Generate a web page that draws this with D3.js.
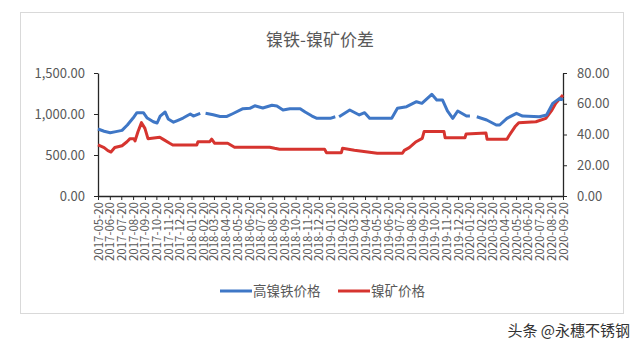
<!DOCTYPE html>
<html>
<head>
<meta charset="utf-8">
<style>
    body { margin: 0; background: #fff; }
    svg text { font-family: "Noto Sans CJK SC", "Noto Sans", sans-serif; fill: #595959; }
    .axis path, .axis line { stroke: #262626; }
</style>
<script src="https://d3js.org/d3.v7.min.js"></script>
</head>
<body>
<svg width="640" height="349"></svg>
<script>
// 高镍铁价格 (left axis)
var ironDates = ["2017-05-20","2017-06-05","2017-06-21","2017-07-06","2017-07-22","2017-08-05","2017-08-20","2017-08-30","2017-09-16","2017-09-26",
    "2017-10-12","2017-10-22","2017-10-30","2017-11-12","2017-11-20","2017-12-04","2017-12-14","2017-12-29","2018-01-17","2018-01-25",
    "2018-02-12","2018-02-19","2018-02-26","2018-03-18","2018-04-05","2018-04-23","2018-05-08","2018-06-04","2018-06-22","2018-07-05",
    "2018-07-26","2018-08-19","2018-09-01","2018-09-17","2018-10-05","2018-11-01","2018-11-14","2018-12-02","2018-12-15","2019-01-19",
    "2019-02-01","2019-02-06","2019-02-11","2019-03-11","2019-04-05","2019-04-19","2019-05-02","2019-06-29","2019-07-14","2019-08-07",
    "2019-09-02","2019-09-16","2019-10-12","2019-10-25","2019-11-09","2019-11-22","2019-12-06","2019-12-19","2020-01-11","2020-01-20",
    "2020-01-28","2020-02-07","2020-03-04","2020-03-29","2020-04-07","2020-04-26","2020-05-21","2020-06-06","2020-07-20","2020-08-08",
    "2020-08-24","2020-09-11","2020-09-20"];
var ironValues = [817,790,772,785,800,866,951,1016,1016,951,
    906,890,975,1024,940,900,920,951,1000,975,
    1008,null,1008,990,970,970,1003,1065,1069,1100,
    1073,1106,1098,1049,1065,1065,1024,975,947,947,
    967,null,967,1049,988,1016,947,947,1069,1089,
    1150,1130,1240,1171,1171,1037,947,1037,975,975,
    null,967,927,866,866,947,1008,975,967,988,
    1130,1191,1171];

// 镍矿价格 (right axis)
var oreDates = ["2017-05-20","2017-06-05","2017-06-15","2017-06-23","2017-07-03","2017-07-22","2017-08-04","2017-08-12","2017-08-22","2017-08-25",
    "2017-09-02","2017-09-11","2017-09-20","2017-09-28","2017-10-29","2017-11-06","2017-11-24","2017-12-02","2018-02-03","2018-02-06",
    "2018-03-09","2018-03-14","2018-03-22","2018-04-25","2018-05-13","2018-08-13","2018-08-26","2018-09-08","2019-01-04","2019-01-09",
    "2019-02-17","2019-02-20","2019-03-23","2019-05-22","2019-07-27","2019-08-01","2019-08-14","2019-09-01","2019-09-17","2019-09-22",
    "2019-11-13","2019-11-16","2020-01-07","2020-01-10","2020-03-02","2020-03-05","2020-04-26","2020-05-01","2020-05-17","2020-05-27",
    "2020-07-11","2020-08-06","2020-08-22","2020-09-01","2020-09-20"];
var oreValues = [33.2,31.5,29.5,28.6,31.5,32.7,35.3,37.3,37.3,35.8,
    42,47.7,44,37.3,38.2,37,34.3,33.2,33.2,35.3,
    35.3,37,34.3,34.3,31.7,31.7,31,30.4,30.4,28.2,
    28.2,31,29.7,27.8,27.8,29.7,31.5,35.3,37.5,42,
    42,37.9,37.9,40.3,41,36.9,36.9,39,45,47.7,
    48.3,50.5,55.9,60.3,65.7];

var leftTicks = [0, 500, 1000, 1500];
var rightTicks = [0, 20, 40, 60, 80];
var seriesNames = ["高镍铁价格", "镍矿价格"];
var seriesColors = ["#3f77c6", "#d6342f"];

var parse = d3.timeParse("%Y-%m-%d");
var start = parse("2017-05-20"), end = parse("2020-09-20");

var svg = d3.select("svg");

// chart frame
svg.append("rect").attr("x", 20.5).attr("y", 12.5).attr("width", 603).attr("height", 301)
    .attr("fill", "#fff").attr("stroke", "#d9d9d9");

svg.append("text").attr("x", 320).attr("y", 46).attr("text-anchor", "middle")
    .style("font-size", "17px").text("镍铁-镍矿价差");

var x = d3.scaleTime().domain([start, end]).range([98, 563]);
var yL = d3.scaleLinear().domain([0, 1500]).range([196, 73]);
var yR = d3.scaleLinear().domain([0, 80]).range([196, 73]);

var tickDates = d3.range(41).map(function(i) { return d3.timeMonth.offset(start, i); });

var fmt = d3.format(",.2f");

var gL = svg.append("g").attr("class", "axis").attr("transform", "translate(98,0)")
    .call(d3.axisLeft(yL).tickValues(leftTicks).tickFormat(fmt).tickSize(4).tickSizeOuter(0));
var gR = svg.append("g").attr("class", "axis").attr("transform", "translate(563,0)")
    .call(d3.axisRight(yR).tickValues(rightTicks).tickFormat(fmt).tickSize(4).tickSizeOuter(0));
[gL, gR].forEach(function(g) {
    g.selectAll("text").style("font-size", "13px").attr("fill", "#595959");
    g.select(".domain").attr("stroke-width", 1.3);
});
gL.selectAll("text").attr("x", -13);
gR.selectAll("text").attr("x", 14);

var gX = svg.append("g").attr("class", "axis").attr("transform", "translate(0,196)")
    .call(d3.axisBottom(x).tickValues(tickDates).tickFormat(d3.timeFormat("%Y-%m-%d")).tickSize(4).tickSizeOuter(0));
gX.select(".domain").attr("stroke-width", 1.3);
gX.selectAll("text")
    .style("font-size", "11.5px").attr("fill", "#595959")
    .attr("text-anchor", "end")
    .attr("transform", "rotate(-90)")
    .attr("x", -6).attr("y", 0).attr("dy", "0.35em");

var iron = ironDates.map(function(d, i) { return { date: parse(d), value: ironValues[i] }; });
var ore = oreDates.map(function(d, i) { return { date: parse(d), value: oreValues[i] }; });

var ironLine = d3.line().defined(function(d) { return d.value != null; })
    .x(function(d) { return x(d.date); }).y(function(d) { return yL(d.value); });
var oreLine = d3.line()
    .x(function(d) { return x(d.date); }).y(function(d) { return yR(d.value); });

svg.append("path").datum(ore).attr("d", oreLine).attr("fill", "none")
    .attr("stroke", seriesColors[1]).attr("stroke-width", 3).attr("stroke-linejoin", "round");
svg.append("path").datum(iron).attr("d", ironLine).attr("fill", "none")
    .attr("stroke", seriesColors[0]).attr("stroke-width", 3).attr("stroke-linejoin", "round");

// legend
var legendX = [220, 338];
seriesNames.forEach(function(name, i) {
    svg.append("line").attr("x1", legendX[i]).attr("x2", legendX[i] + 32).attr("y1", 291).attr("y2", 291)
        .attr("stroke", seriesColors[i]).attr("stroke-width", 3);
    svg.append("text").attr("x", legendX[i] + 33).attr("y", 291).attr("dy", "0.35em")
        .style("font-size", "13.5px").text(name);
});

// watermark
svg.append("text").attr("x", 630).attr("y", 331).attr("dy", "0.35em").attr("text-anchor", "end")
    .style("font-size", "15px").style("fill", "#333").text("头条 @永穗不锈钢");
</script>
</body>
</html>
